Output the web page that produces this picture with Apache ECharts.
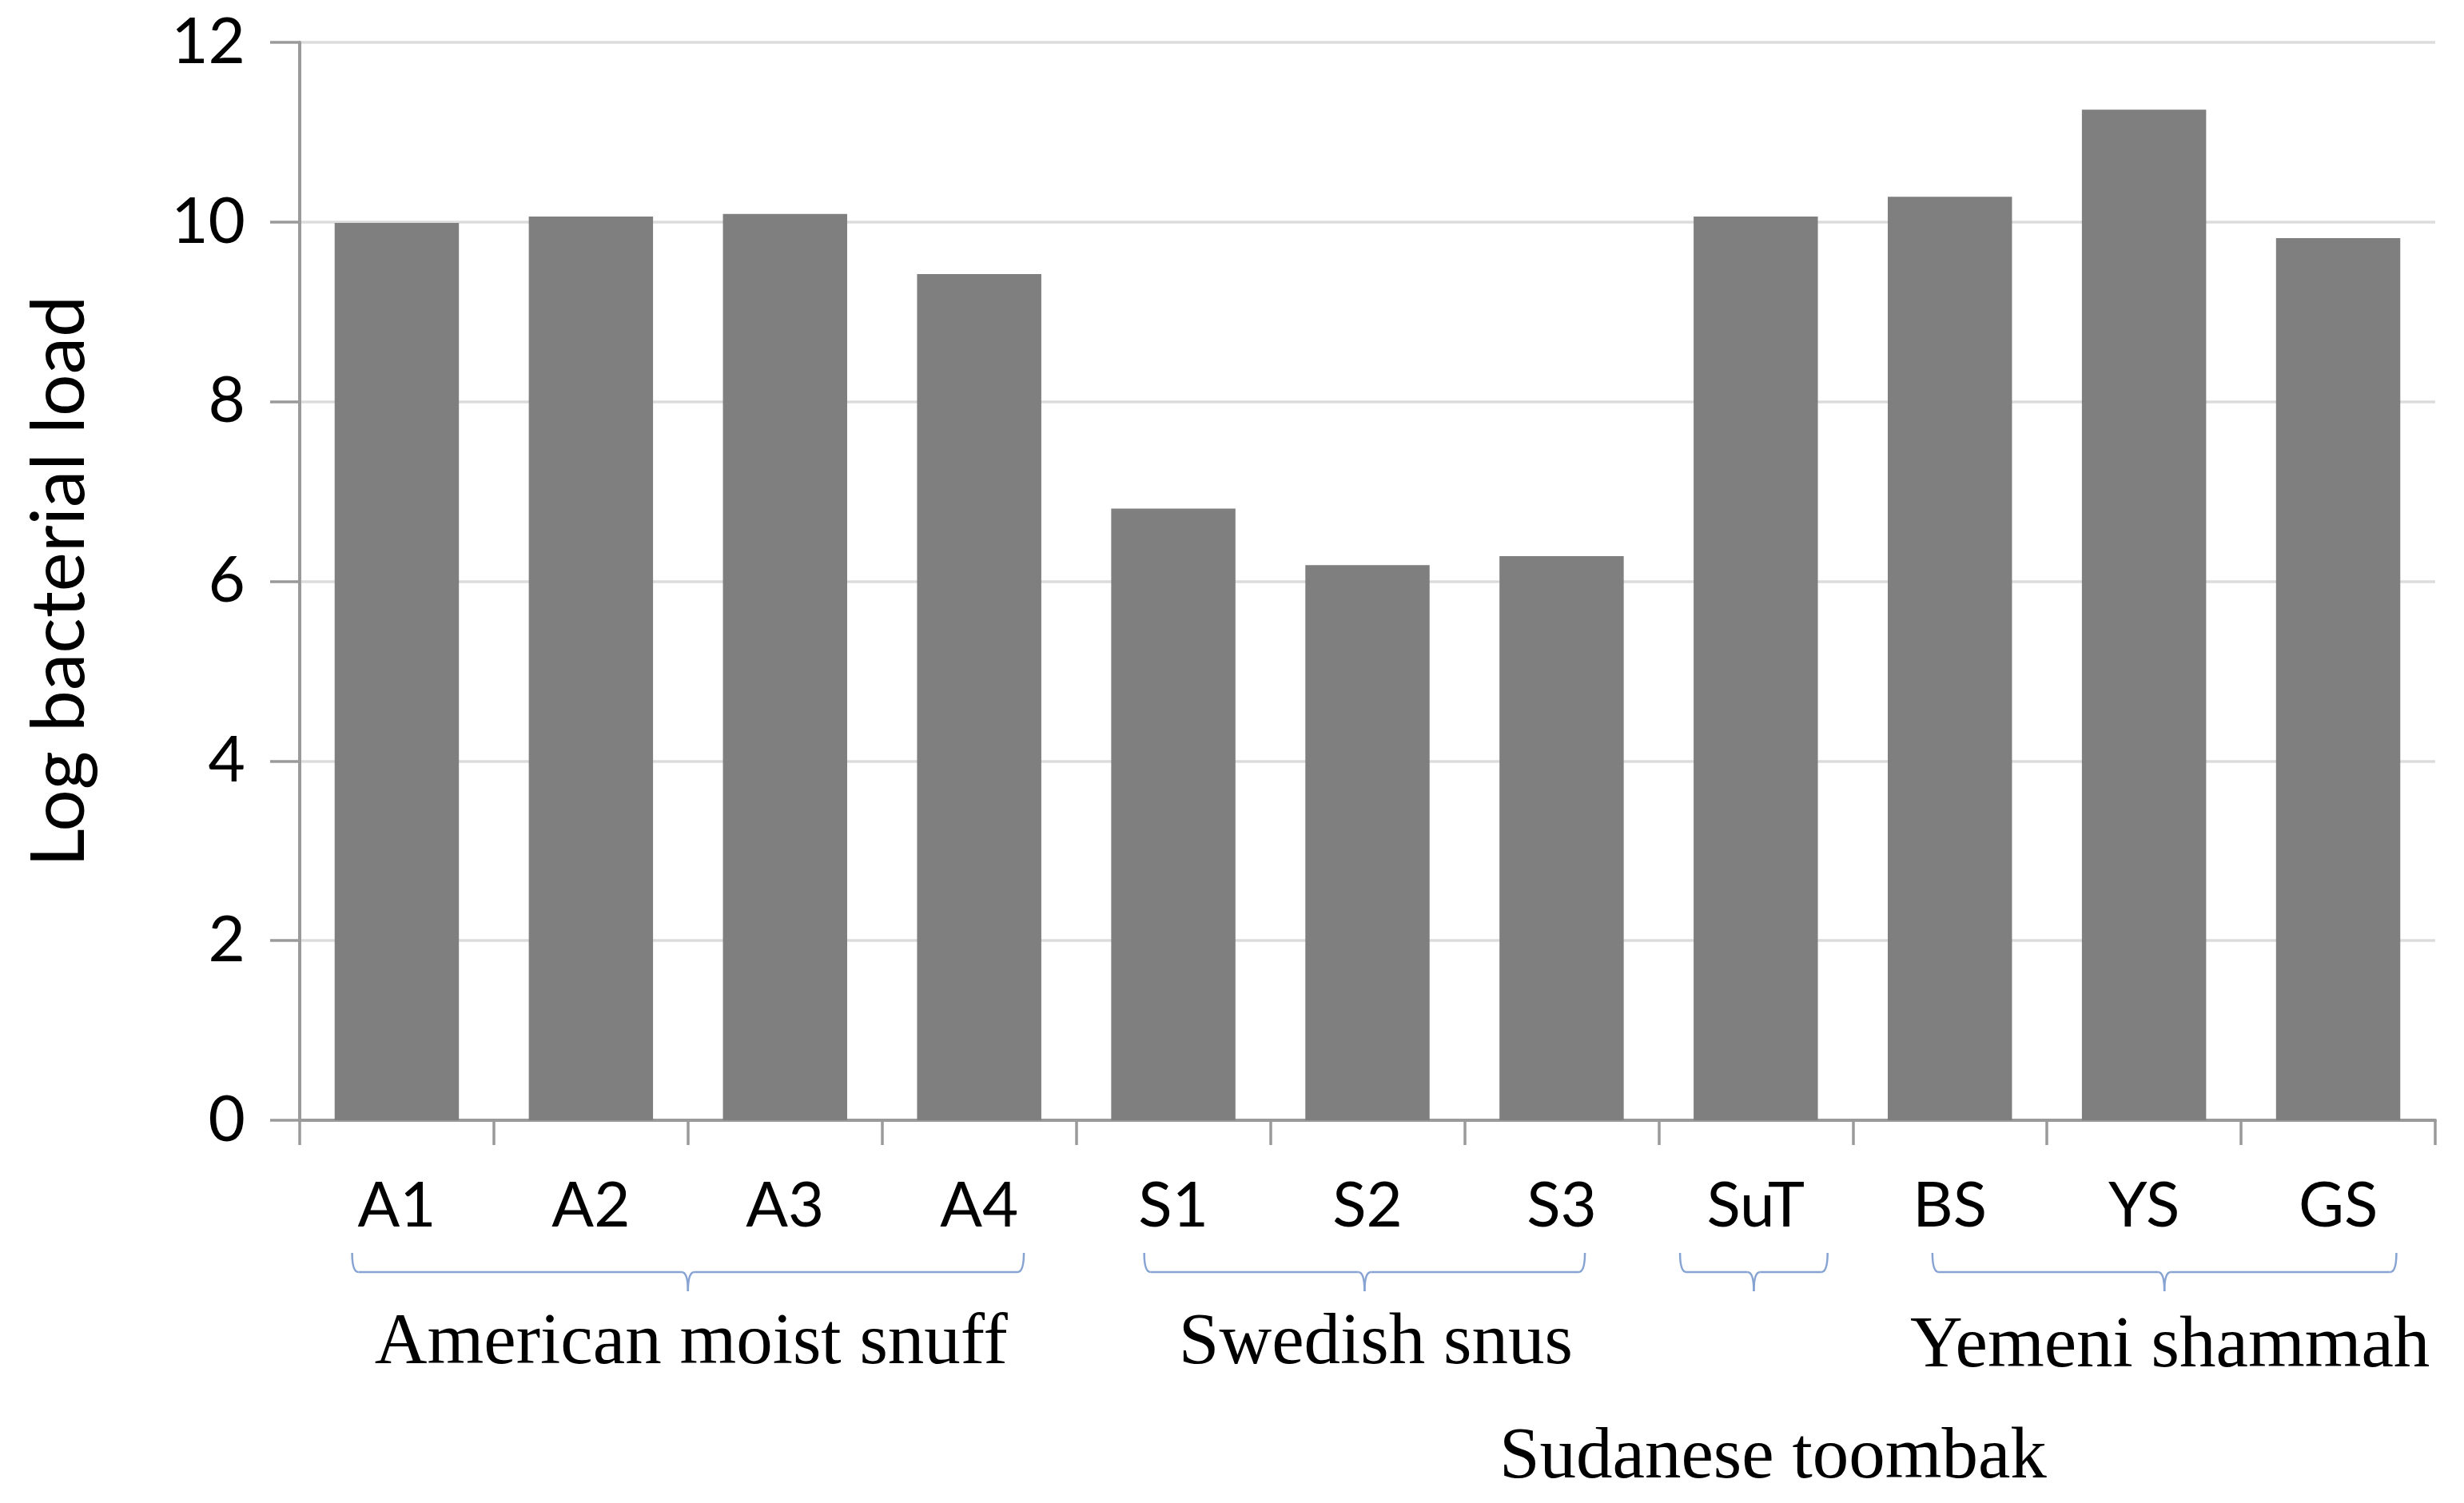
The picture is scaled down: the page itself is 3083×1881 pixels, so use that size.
<!DOCTYPE html>
<html lang="en">
<head>
    <meta charset="UTF-8">
    <title>Log bacterial load</title>
    <style type="text/css">
        html, body { margin: 0; padding: 0; background: #fff; }
        #main { width: 3083px; height: 1881px; }
    </style>
</head>
<body>
    <div id="main"></div>
    <script src="https://cdn.jsdelivr.net/npm/echarts@6/dist/echarts.min.js"></script>
    <script type="text/javascript">
        // data
        const categories = ['A1', 'A2', 'A3', 'A4', 'S1', 'S2', 'S3', 'SuT', 'BS', 'YS', 'GS'];
        const logLoad = [9.99, 10.06, 10.09, 9.42, 6.81, 6.18, 6.28, 10.06, 10.28, 11.25, 9.82];
        const yMin = 0, yMax = 12, yStep = 2;
        // product groups under the axis (first / last category index)
        const groupNames = ['American moist snuff', 'Swedish snus', 'Sudanese toombak', 'Yemeni shammah'];
        const groupFirst = [0, 4, 7, 8];
        const groupLast = [3, 6, 7, 10];

        // layout of the braces and group labels (not data)
        const braceInset = [[-0.23, 0.23], [-0.15, 0.12], [-0.39, 0.37], [-0.09, 0.30]]; // in category widths
        const braceTop = 1568, braceMid = 1592, braceTip = 1616;
        const labelBaseline = [1712, 1712, 1855, 1716];
        const labelDx = [4, 14, 24, 7];

        const axisGrey = '#9a9a9a';
        const braceBlue = '#86a3d2';
        const sans = 'Lato';

        var myChart = echarts.init(document.getElementById('main'));

        var option = {
            animation: false,
            backgroundColor: '#ffffff',
            grid: { left: 375, right: 36, top: 53, bottom: 479, containLabel: false },
            xAxis: {
                type: 'category',
                data: categories,
                boundaryGap: true,
                axisLine: { lineStyle: { color: axisGrey, width: 4 } },
                axisTick: { show: true, interval: 0, length: 31, lineStyle: { color: axisGrey, width: 3.5 } },
                axisLabel: { interval: 0, margin: 69, fontSize: 78, fontFamily: sans, color: '#000' }
            },
            yAxis: {
                type: 'value',
                min: yMin,
                max: yMax,
                interval: yStep,
                name: 'Log bacterial load',
                nameLocation: 'middle',
                nameGap: 254,
                nameTextStyle: { fontSize: 93, fontFamily: sans, color: '#000' },
                axisLine: { show: true, lineStyle: { color: axisGrey, width: 4 } },
                axisTick: { show: true, length: 37, lineStyle: { color: axisGrey, width: 3.5 } },
                axisLabel: { margin: 68, fontSize: 80, fontFamily: sans, color: '#000' },
                splitLine: { lineStyle: { color: '#dcdcdc', width: 3.5 } }
            },
            series: [{
                type: 'bar',
                data: logLoad,
                barCategoryGap: '36%',
                itemStyle: { color: '#7f7f7f' }
            }]
        };
        myChart.setOption(option);

        // braces and group names, placed from the category axis
        function catX(i) {
            return myChart.convertToPixel({ xAxisIndex: 0 }, categories[i]);
        }
        var catW = catX(1) - catX(0);
        var braceStyle = { fill: null, stroke: braceBlue, lineWidth: 2.5 };
        var graphics = [];
        for (let g = 0; g < groupNames.length; g++) {
            var x1 = catX(groupFirst[g]) + braceInset[g][0] * catW;
            var x2 = catX(groupLast[g]) + braceInset[g][1] * catW;
            var xm = (x1 + x2) / 2;
            var r = 8;
            // curls at both ends and at the tip, straight runs between
            graphics.push({ type: 'bezierCurve', shape: { x1: x1, y1: braceTop, cpx1: x1, cpy1: braceMid, x2: x1 + r, y2: braceMid }, style: braceStyle });
            graphics.push({ type: 'line', shape: { x1: x1 + r, y1: braceMid, x2: xm - r, y2: braceMid }, style: braceStyle });
            graphics.push({ type: 'bezierCurve', shape: { x1: xm - r, y1: braceMid, cpx1: xm, cpy1: braceMid, x2: xm, y2: braceTip }, style: braceStyle });
            graphics.push({ type: 'bezierCurve', shape: { x1: xm, y1: braceTip, cpx1: xm, cpy1: braceMid, x2: xm + r, y2: braceMid }, style: braceStyle });
            graphics.push({ type: 'line', shape: { x1: xm + r, y1: braceMid, x2: x2 - r, y2: braceMid }, style: braceStyle });
            graphics.push({ type: 'bezierCurve', shape: { x1: x2 - r, y1: braceMid, cpx1: x2, cpy1: braceMid, x2: x2, y2: braceTop }, style: braceStyle });
            graphics.push({
                type: 'text',
                x: xm + labelDx[g],
                y: labelBaseline[g] - 30,
                style: {
                    text: groupNames[g],
                    fontFamily: 'Liberation Serif',
                    fontSize: 91,
                    fill: '#000',
                    textAlign: 'center',
                    textVerticalAlign: 'middle'
                }
            });
        }
        myChart.setOption({ graphic: graphics });
    </script>
</body>
</html>
